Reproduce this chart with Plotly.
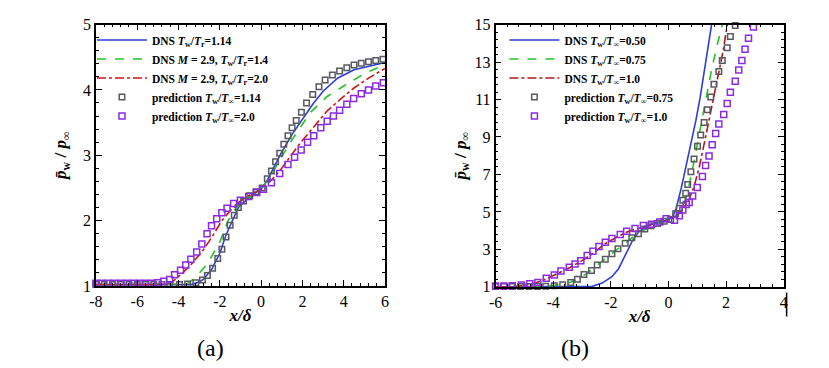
import plotly.graph_objects as go

# ---------------- Panel (a) data ----------------
a_dns114_x = [-8, -3.4, -3.0, -2.8, -2.4, -2.0, -1.7, -1.4, -1.1, -0.5, 0.0, 0.3, 0.7, 1.0, 1.5, 2.0, 2.5, 3.0, 3.7, 4.5, 5.4, 6.0]
a_dns114_y = [1.02, 1.02, 1.06, 1.10, 1.25, 1.50, 1.78, 2.00, 2.20, 2.38, 2.48, 2.62, 2.86, 3.05, 3.32, 3.55, 3.78, 3.98, 4.18, 4.31, 4.38, 4.42]

a_dns14_x = [-8, -3.6, -3.2, -2.6, -2.0, -1.6, -1.2, -0.6, 0.0, 0.5, 1.0, 1.5, 2.4, 3.2, 4.0, 5.0, 6.0]
a_dns14_y = [1.02, 1.03, 1.12, 1.34, 1.67, 2.00, 2.20, 2.35, 2.48, 2.70, 2.98, 3.24, 3.66, 3.90, 4.06, 4.25, 4.39]

a_dns20_x = [-8, -4.8, -4.3, -3.8, -3.3, -2.8, -2.4, -1.9, -1.5, -1.0, -0.5, 0.0, 0.5, 1.0, 1.8, 2.5, 3.2, 4.0, 4.5, 5.2, 6.0]
a_dns20_y = [1.02, 1.02, 1.06, 1.20, 1.36, 1.55, 1.74, 2.00, 2.15, 2.30, 2.40, 2.48, 2.62, 2.80, 3.15, 3.42, 3.68, 3.90, 4.03, 4.18, 4.33]

a_pred114_x = [-8.0, -7.6, -7.2, -6.8, -6.4, -6.0, -5.6, -5.2, -4.8, -4.43, -3.95, -3.56, -3.16, -2.84, -2.6, -2.35, -2.1, -1.9, -1.7,
               -1.5, -1.3, -1.1, -0.85, -0.55, -0.25, 0.05, 0.3, 0.5, 0.7, 0.9, 1.1, 1.3, 1.5, 1.7, 1.95, 2.2, 2.5, 2.8, 3.1,
               3.45, 3.8, 4.15, 4.5, 4.85, 5.2, 5.55, 5.9]
a_pred114_y = [1.02, 1.02, 1.02, 1.02, 1.02, 1.02, 1.02, 1.02, 1.02, 1.02, 1.02, 1.03, 1.05, 1.09, 1.16, 1.27, 1.42, 1.56, 1.75,
               1.93, 2.08, 2.20, 2.30, 2.38, 2.44, 2.50, 2.64, 2.76, 2.90, 3.03, 3.17, 3.30, 3.42, 3.53, 3.66, 3.80, 3.93, 4.05, 4.15,
               4.23, 4.29, 4.34, 4.38, 4.41, 4.43, 4.45, 4.47]

a_pred20_x = [-8.0, -7.7, -7.4, -7.1, -6.8, -6.5, -6.2, -5.9, -5.6, -5.3, -5.0, -4.72, -4.43, -4.19, -3.9, -3.65, -3.4, -3.12,
              -2.87, -2.62, -2.4, -2.15, -1.9, -1.65, -1.33, -1.0, -0.6, -0.21, 0.11, 0.5, 0.9, 1.3, 1.62, 1.94, 2.25, 2.55,
              2.89, 3.2, 3.5, 3.8, 4.15, 4.48, 4.85, 5.2, 5.55, 5.92]
a_pred20_y = [1.04, 1.04, 1.04, 1.04, 1.04, 1.04, 1.04, 1.04, 1.04, 1.04, 1.05, 1.07, 1.10, 1.17, 1.24, 1.32, 1.41, 1.52,
              1.64, 1.80, 1.92, 2.03, 2.12, 2.19, 2.26, 2.31, 2.37, 2.43, 2.48, 2.58, 2.72, 2.86, 2.97, 3.08, 3.20, 3.30,
              3.42, 3.52, 3.60, 3.69, 3.78, 3.87, 3.94, 4.00, 4.06, 4.11]

# ---------------- Panel (b) data ----------------
b_dns050_x = [-6, -3.0, -2.64, -2.3, -1.96, -1.73, -1.5, -1.27, -1.04, -0.82, -0.6, -0.3, 0.0, 0.15, 0.27, 0.45, 0.61, 0.8, 0.95, 1.1, 1.24, 1.37, 1.5, 1.55]
b_dns050_y = [1.0, 1.0, 1.03, 1.20, 1.54, 1.97, 2.70, 3.40, 3.92, 4.17, 4.33, 4.48, 4.60, 4.75, 5.20, 6.30, 7.45, 8.70, 9.86, 11.1, 12.4, 13.6, 14.95, 15.5]

b_dns075_x = [-6, -4.6, -4.2, -3.8, -3.4, -3.1, -2.8, -2.5, -2.2, -1.9, -1.6, -1.3, -1.0, -0.7, -0.4, -0.1, 0.1, 0.3, 0.4, 0.55, 0.7, 0.84, 1.0, 1.18, 1.35, 1.52, 1.7, 1.87, 1.95]
b_dns075_y = [1.0, 1.01, 1.04, 1.12, 1.25, 1.45, 1.75, 2.12, 2.48, 2.85, 3.20, 3.58, 3.88, 4.17, 4.35, 4.50, 4.62, 4.85, 5.0, 5.45, 6.3, 7.31, 8.6, 10.03, 11.4, 12.75, 13.95, 14.95, 15.5]

b_dns10_x = [-6, -5.4, -5.0, -4.6, -4.2, -3.8, -3.4, -3.0, -2.6, -2.2, -1.8, -1.4, -1.0, -0.6, -0.2, 0.1, 0.4, 0.7, 0.9, 1.07, 1.25, 1.41, 1.58, 1.75, 1.9, 2.04, 2.1]
b_dns10_y = [1.0, 1.02, 1.08, 1.22, 1.45, 1.75, 2.05, 2.40, 2.80, 3.30, 3.65, 3.95, 4.15, 4.32, 4.48, 4.62, 4.95, 5.6, 6.4, 7.4, 8.7, 9.86, 11.1, 12.4, 13.6, 14.95, 15.5]

b_pred075_x = [-6.0, -5.71, -5.42, -5.13, -4.84, -4.55, -4.26, -3.96, -3.67, -3.39, -3.16, -2.93, -2.67, -2.47, -2.19, -1.96, -1.75,
               -1.5, -1.27, -1.04, -0.82, -0.61, -0.38, -0.15, 0.08, 0.25, 0.38, 0.5, 0.6, 0.67, 0.78, 0.89, 1.01, 1.12, 1.24,
               1.35, 1.47, 1.58, 1.75, 1.87, 2.04, 2.15, 2.32]
b_pred075_y = [1.02, 1.02, 1.02, 1.02, 1.02, 1.02, 1.03, 1.06, 1.12, 1.24, 1.41, 1.66, 1.88, 2.17, 2.48, 2.77, 3.04,
               3.33, 3.62, 3.84, 4.09, 4.26, 4.38, 4.50, 4.60, 4.90, 5.20, 5.62, 6.00, 6.46, 7.14, 7.82, 8.50, 9.10, 9.77,
               10.45, 11.13, 11.81, 12.49, 13.08, 13.76, 14.36, 14.95]

b_pred10_x = [-6.0, -5.71, -5.42, -5.1, -4.81, -4.53, -4.24, -3.96, -3.73, -3.44, -3.24, -3.04, -2.82, -2.62, -2.41, -2.19, -1.96,
              -1.67, -1.45, -1.16, -0.87, -0.59, -0.3, -0.08, 0.21, 0.38, 0.5, 0.62, 0.72, 0.84, 1.0, 1.18, 1.29, 1.41, 1.52,
              1.64, 1.75, 1.92, 2.04, 2.15, 2.32, 2.44, 2.55, 2.66, 2.78, 2.95]
b_pred10_y = [1.05, 1.05, 1.06, 1.10, 1.17, 1.24, 1.46, 1.63, 1.85, 2.05, 2.22, 2.39, 2.68, 2.90, 3.15, 3.38, 3.58,
              3.80, 3.97, 4.12, 4.27, 4.34, 4.46, 4.63, 4.55, 4.80, 5.10, 5.40, 5.50, 5.85, 6.30, 6.89, 7.48, 7.99, 8.59,
              9.18, 9.69, 10.20, 10.79, 11.39, 11.98, 12.57, 13.08, 13.68, 14.27, 14.87]

# tick labels
a_xticks = [-8, -6, -4, -2, 0, 2, 4, 6]
a_xticklabels = ["-8", "-6", "-4", "-2", "0", "2", "4", "6"]
a_yticks = [1, 2, 3, 4, 5]
b_xticks = [-6, -4, -2, 0, 2, 4]
b_xticklabels = ["-6", "-4", "-2", "0", "2", "4"]
b_yticks = [1, 3, 5, 7, 9, 11, 13, 15]

names_a = [
    "<b>DNS <i>T</i><sub>w</sub>/<i>T</i><sub>r</sub>=1.14</b>",
    "<b>DNS <i>M</i> = 2.9, <i>T</i><sub>w</sub>/<i>T</i><sub>r</sub>=1.4</b>",
    "<b>DNS <i>M</i> = 2.9, <i>T</i><sub>w</sub>/<i>T</i><sub>r</sub>=2.0</b>",
    "<b>prediction <i>T</i><sub>w</sub>/<i>T</i><sub>∞</sub>=1.14</b>",
    "<b>prediction <i>T</i><sub>w</sub>/<i>T</i><sub>∞</sub>=2.0</b>",
]
names_b = [
    "<b>DNS <i>T</i><sub>w</sub>/<i>T</i><sub>∞</sub>=0.50</b>",
    "<b>DNS <i>T</i><sub>w</sub>/<i>T</i><sub>∞</sub>=0.75</b>",
    "<b>DNS <i>T</i><sub>w</sub>/<i>T</i><sub>∞</sub>=1.0</b>",
    "<b>prediction <i>T</i><sub>w</sub>/<i>T</i><sub>∞</sub>=0.75</b>",
    "<b>prediction <i>T</i><sub>w</sub>/<i>T</i><sub>∞</sub>=1.0</b>",
]

BLUE = "#2b3fd6"
GREEN = "#22c322"
RED = "#d01515"
DRED = "#b01818"
GRAY = "#585860"
PURPLE = "#8a2be2"
FONT = "Liberation Serif, Times New Roman, serif"

fig = go.Figure()

def line(x, y, name, color, dash, xa, ya, leg):
    fig.add_trace(go.Scatter(x=x, y=y, name=name, mode="lines", line=dict(color=color, width=1.6, dash=dash),
                             xaxis=xa, yaxis=ya, legend=leg))

def pts(x, y, name, color, size, xa, ya, leg):
    fig.add_trace(go.Scatter(x=x, y=y, name=name, mode="markers", cliponaxis=False,
                             marker=dict(symbol="square-open", size=size, color=color, line=dict(width=1.5, color=color)),
                             xaxis=xa, yaxis=ya, legend=leg))

line(a_dns114_x, a_dns114_y, names_a[0], BLUE, "solid", "x", "y", "legend")
line(a_dns14_x, a_dns14_y, names_a[1], GREEN, "dash", "x", "y", "legend")
line(a_dns20_x, a_dns20_y, names_a[2], RED, "dashdot", "x", "y", "legend")
pts(a_pred114_x, a_pred114_y, names_a[3], GRAY, 5.5, "x", "y", "legend")
pts(a_pred20_x, a_pred20_y, names_a[4], PURPLE, 6, "x", "y", "legend")

line(b_dns050_x, b_dns050_y, names_b[0], BLUE, "solid", "x2", "y2", "legend2")
line(b_dns075_x, b_dns075_y, names_b[1], GREEN, "dash", "x2", "y2", "legend2")
line(b_dns10_x, b_dns10_y, names_b[2], DRED, "dashdot", "x2", "y2", "legend2")
pts(b_pred075_x, b_pred075_y, names_b[3], GRAY, 5.5, "x2", "y2", "legend2")
pts(b_pred10_x, b_pred10_y, names_b[4], PURPLE, 6, "x2", "y2", "legend2")

W, H = 829, 368
ax_common = dict(showgrid=False, zeroline=False, showline=True, linecolor="black", linewidth=1.6,
                 mirror="allticks", ticks="inside", ticklen=6, tickwidth=1.4, tickcolor="black",
                 tickfont=dict(family=FONT, size=16, color="black"))
ytitle = "<b><i>p̄</i><sub>w</sub> / <i>p</i><sub>∞</sub></b>"
xtitle = "<b><i>x/δ</i></b>"

fig.update_layout(
    width=W, height=H, margin=dict(l=0, r=0, t=0, b=0),
    font=dict(family=FONT, color="black"),
    paper_bgcolor="white", plot_bgcolor="white",
    xaxis=dict(ax_common, domain=[82 / W, 375 / W], range=[-8, 6], tickvals=a_xticks, ticktext=a_xticklabels, anchor="y",
               minor=dict(dtick=0.4, tick0=0, ticks="inside", ticklen=3, tickcolor="black"),
               title=dict(text=xtitle, font=dict(family=FONT, size=17, color="black"), standoff=0)),
    yaxis=dict(ax_common, domain=[1 - 283 / H, 1 - 9 / H], range=[1, 5], tickvals=a_yticks, anchor="x",
               minor=dict(dtick=0.2, tick0=0, ticks="inside", ticklen=3, tickcolor="black"),
               title=dict(text=ytitle, font=dict(family=FONT, size=17, color="black"), standoff=12)),
    xaxis2=dict(ax_common, domain=[487 / W, 779 / W], range=[-6, 4], tickvals=b_xticks, ticktext=b_xticklabels, anchor="y2",
                minor=dict(dtick=0.4, tick0=0, ticks="inside", ticklen=3, tickcolor="black"),
                title=dict(text=xtitle, font=dict(family=FONT, size=17, color="black"), standoff=0)),
    yaxis2=dict(ax_common, domain=[1 - 284 / H, 1 - 9 / H], range=[1, 15], tickvals=b_yticks, anchor="x2",
                minor=dict(dtick=0.4, tick0=1, ticks="inside", ticklen=3, tickcolor="black"),
                title=dict(text=ytitle, font=dict(family=FONT, size=17, color="black"), standoff=4)),
    legend=dict(x=78 / W, y=1 - 10 / H, xanchor="left", yanchor="top", bgcolor="rgba(0,0,0,0)",
                itemwidth=50, font=dict(family=FONT, size=11.5, color="black"), tracegroupgap=0),
    legend2=dict(x=496 / W, y=1 - 10 / H, xanchor="left", yanchor="top", bgcolor="rgba(0,0,0,0)",
                 itemwidth=50, font=dict(family=FONT, size=11.5, color="black"), tracegroupgap=0),
    showlegend=True,
    annotations=[
        dict(text="(a)", x=198 / W, y=1 - 348 / H, xref="paper", yref="paper", showarrow=False,
             xanchor="center", yanchor="middle", font=dict(family=FONT, size=24, color="black")),
        dict(text="(b)", x=568 / W, y=1 - 348 / H, xref="paper", yref="paper", showarrow=False,
             xanchor="center", yanchor="middle", font=dict(family=FONT, size=24, color="black")),
    ],
    shapes=[dict(type="line", xref="paper", yref="paper", x0=782 / W, x1=782 / W, y0=1 - 290 / H, y1=1 - 315 / H,
                 line=dict(color="black", width=1.5))],
)

fig.write_html("out.html")
